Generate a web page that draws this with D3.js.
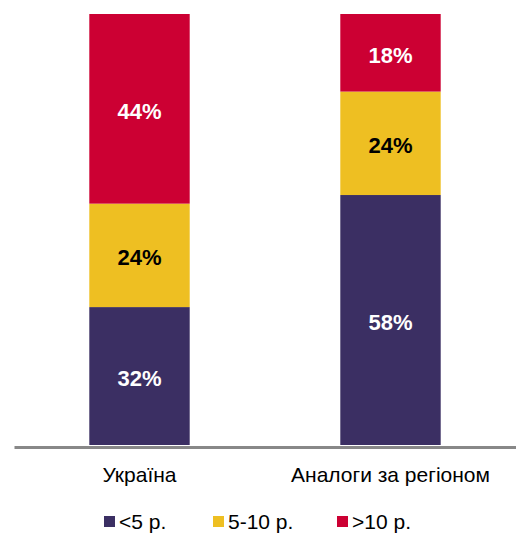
<html>
<head>
  <meta charset="UTF-8">
  <title>Stacked bars</title>
  <style>
    body { margin: 0; padding: 0; background: #fff; font-family: Arial, "Liberation Sans", sans-serif; }
  </style>
</head>
<body>
  <div id="chart"></div>
  <script src="https://cdnjs.cloudflare.com/ajax/libs/d3/7.8.4/d3.min.js"></script>
  <script>
    // data
    const categories = ["Україна", "Аналоги за регіоном"];
    const seriesNames = ["<5 р.", "5-10 р.", ">10 р."];
    const under5 = [32, 58];
    const from5to10 = [24, 24];
    const over10 = [44, 18];
    const colors = ["#3b2f63", "#eebf22", "#cc0033"];
    const labelColors = ["#fff", "#000", "#fff"];

    const width = 516, height = 534;
    const svg = d3.select("#chart").append("svg")
      .attr("width", width).attr("height", height);

    const rows = categories.map((c, i) => ({
      cat: c, s0: under5[i], s1: from5to10[i], s2: over10[i]
    }));
    const stacked = d3.stack().keys(["s0", "s1", "s2"])(rows);

    const x = d3.scaleBand().domain(categories).range([14, 516]).paddingInner(0.6).paddingOuter(0.3);
    const y = d3.scaleLinear().domain([0, 100]).range([445, 14]);

    stacked.forEach((layer, k) => {
      const g = svg.append("g");
      g.selectAll("rect").data(layer).enter().append("rect")
        .attr("x", d => x(d.data.cat))
        .attr("width", x.bandwidth())
        .attr("y", d => y(d[1]))
        .attr("height", d => y(d[0]) - y(d[1]))
        .attr("fill", colors[k]);
      g.selectAll("text").data(layer).enter().append("text")
        .attr("x", d => x(d.data.cat) + x.bandwidth() / 2)
        .attr("y", d => (y(d[0]) + y(d[1])) / 2 + 2)
        .attr("dy", "0.36em")
        .attr("text-anchor", "middle")
        .attr("font-size", 22)
        .attr("font-weight", "bold")
        .attr("fill", labelColors[k])
        .text(d => (d[1] - d[0]) + "%");
    });

    // axis baseline
    const axis = svg.append("g").attr("transform", "translate(0,447)")
      .call(d3.axisBottom(x).tickSize(0).tickPadding(20));
    axis.select(".domain").attr("stroke", "#888").attr("stroke-width", 3);
    axis.selectAll("text").attr("font-size", 21).attr("fill", "#000")
      .attr("font-family", "Arial, 'Liberation Sans', sans-serif");

    // legend
    const legendX = [104, 213, 337];
    const legend = svg.append("g");
    seriesNames.forEach((name, i) => {
      legend.append("rect").attr("x", legendX[i]).attr("y", 516)
        .attr("width", 11).attr("height", 11).attr("fill", colors[i]);
      legend.append("text").attr("x", legendX[i] + 15).attr("y", 529)
        .attr("font-size", 21).attr("fill", "#000").text(name);
    });
  </script>
</body>
</html>
